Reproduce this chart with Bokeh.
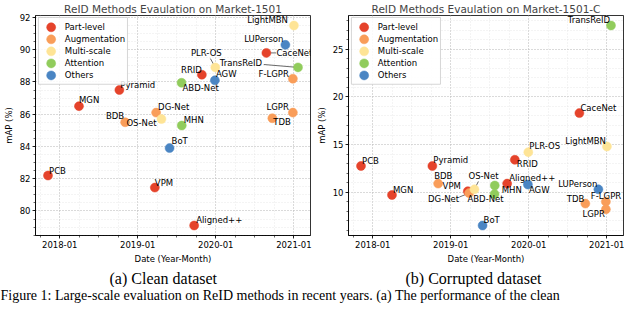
import numpy as np
from bokeh.plotting import figure
from bokeh.models import ColumnDataSource, Range1d, FixedTicker, Title
from bokeh.layouts import column, row
from bokeh.core.properties import value
from bokeh.embed import file_html
from bokeh.resources import INLINE

# ---------------- data ----------------
methods = ["PCB", "MGN", "Pyramid", "BDB", "DG-Net", "VPM", "OS-Net", "BoT", "ABD-Net", "MHN",
           "Aligned++", "RRID", "PLR-OS", "AGW", "CaceNet", "TDB", "LUPerson", "F-LGPR", "LGPR",
           "LightMBN", "TransReID"]
dates = ["2017-11-07", "2018-04-01", "2018-10-07", "2018-11-03", "2019-03-28", "2019-03-22",
         "2019-04-22", "2019-05-30", "2019-07-25", "2019-07-26", "2019-09-22", "2019-10-28",
         "2019-12-30", "2019-12-28", "2020-08-25", "2020-09-22", "2020-11-22", "2020-12-27",
         "2020-12-27", "2021-01-01", "2021-01-20"]
categories = ["Part-level", "Part-level", "Part-level", "Augmentation", "Augmentation", "Part-level",
              "Multi-scale", "Others", "Attention", "Attention", "Part-level", "Part-level",
              "Multi-scale", "Others", "Part-level", "Augmentation", "Others", "Augmentation",
              "Augmentation", "Multi-scale", "Attention"]
clean_map = [82.2, 86.5, 87.5, 85.5, 86.1, 81.45, 85.7, 83.9, 87.95, 85.3,
             79.1, 88.45, 88.9, 88.1, 89.8, 85.75, 90.3, 88.2, 86.1, 91.5, 88.9]
corrupt_map = [12.75, 9.7, 12.75, 10.9, 9.9, 10.1, 10.3, 6.5, 9.8, 10.7,
               10.9, 13.4, 14.2, 10.8, 18.3, 8.8, 10.3, 9.0, 8.2, 14.8, 27.5]

cat_names = ["Part-level", "Augmentation", "Multi-scale", "Attention", "Others"]
xtick_dates = ["2018-01-01", "2019-01-01", "2020-01-01", "2021-01-01"]
xtick_labels = ["2018-01", "2019-01", "2020-01", "2021-01"]
clean_yticks = [80, 82, 84, 86, 88, 90, 92]
corrupt_yticks = [10, 15, 20, 25]

titles = ["ReID Methods Evaulation on Market-1501", "ReID Methods Evaulation on Market-1501-C"]
captions = ["(a) Clean dataset", "(b) Corrupted dataset"]
footer = "Figure 1: Large-scale evaluation on ReID methods in recent years. (a) The performance of the clean"

# ---------------- styles ----------------
cat_colors = {"Part-level": "#e5432b", "Augmentation": "#f99d59", "Multi-scale": "#fee496",
              "Attention": "#91cc5c", "Others": "#4a85c3"}
FONT = "DejaVu Sans"

clean_offsets = {
    "PCB": (1, -5, "left"), "MGN": (0, -6, "left"), "Pyramid": (1, -5, "left"),
    "BDB": (-1, -6, "right"), "DG-Net": (2, -6, "left"), "VPM": (0, -5, "left"),
    "OS-Net": (-5, 4, "right"), "BoT": (2, -7, "left"), "ABD-Net": (1, 5, "left"),
    "MHN": (2, -6, "left"), "Aligned++": (2, -6, "left"), "RRID": (0, -5, "right"),
    "PLR-OS": (-9, -14, "center"), "AGW": (1, -6, "left"), "CaceNet": (10, 0, "left"),
    "TDB": (1, 4, "left"), "LUPerson": (-2, -6, "right"), "F-LGPR": (-4, -5, "right"),
    "LGPR": (-4, -6, "right"), "LightMBN": (-6, -6, "right"), "TransReID": (-36, -4, "right"),
}
corrupt_offsets = {
    "PCB": (1, -5, "left"), "MGN": (1, -5, "left"), "Pyramid": (1, -6, "left"),
    "BDB": (-4, -8, "left"), "DG-Net": (-10, 6, "right"), "VPM": (-7, -5, "right"),
    "OS-Net": (-6, -13, "left"), "BoT": (1, -6, "left"), "ABD-Net": (-9, 5, "center"),
    "MHN": (7, 4, "left"), "Aligned++": (2, -6, "left"), "RRID": (2, 4, "left"),
    "PLR-OS": (1, -6, "left"), "AGW": (1, 5, "left"), "CaceNet": (1, -5, "left"),
    "TDB": (-1, -5, "right"), "LUPerson": (-1, -5, "right"), "F-LGPR": (-15, -6, "left"),
    "LGPR": (-1, 5, "right"), "LightMBN": (-1, -5, "right"), "TransReID": (-1, -6, "right"),
}
clean_leaders = {"TransReID": (-35, -3), "CaceNet": (10, 0), "PLR-OS": (-5, -9)}
corrupt_leaders = {"OS-Net": (4, -8), "DG-Net": (-10, 4), "Aligned++": (2, -3)}

# legend layout in pixels, relative to the frame's top-left corner
LEG_BOX = (3, 2, 94, 70)
LEG_MARK_X = 16
LEG_FIRST_Y = 12
LEG_PITCH = 12.25
LEG_LABEL_X = 30


def to_ms(s):
    return int(np.datetime64(s, "ms").astype("int64"))


x_ms = [to_ms(d) for d in dates]
major_ms = [to_ms(d) for d in xtick_dates]
year_edges = [to_ms(f"{y}-01-01") for y in range(2017, 2023)]
minor_ms = []
for a, b in zip(year_edges[:-1], year_edges[1:]):
    for k in range(4):
        minor_ms.append(int(a + (b - a) * k / 4))

ROW_H = 287
TOP_B = 14
FRAME_H = 224
BOT_B = ROW_H - TOP_B - FRAME_H


def make_chart(vals, title, caption, offsets, leaders, yticks, ystep_minor,
               width, bl, br, cap_offset):
    frame_w = width - bl - br
    xmin, xmax = min(x_ms), max(x_ms)
    xpad = 0.05 * (xmax - xmin)
    ymin, ymax = min(vals), max(vals)
    ypad = 0.05 * (ymax - ymin)
    x0, x1 = xmin - xpad, xmax + xpad
    y0, y1 = ymin - ypad, ymax + ypad

    p = figure(width=width, height=ROW_H, x_axis_type="datetime",
               x_range=Range1d(x0, x1), y_range=Range1d(y0, y1),
               output_backend="svg", toolbar_location=None,
               min_border_left=bl, min_border_right=br, min_border_top=TOP_B,
               min_border_bottom=BOT_B, background_fill_color="white",
               border_fill_color="white", outline_line_color="black",
               outline_line_width=0.8)
    p.title.text = title
    p.title.text_font = FONT
    p.title.text_font_size = "10.5px"
    p.title.text_font_style = "normal"
    p.title.align = "center"
    p.title.standoff = 1

    xt = FixedTicker(ticks=major_ms, minor_ticks=minor_ms)
    p.xaxis.ticker = xt
    p.xgrid.ticker = xt
    p.xaxis.major_label_overrides = {m: l for m, l in zip(major_ms, xtick_labels)}
    yminor = np.arange(np.floor(y0 / ystep_minor) * ystep_minor, y1 + ystep_minor, ystep_minor)
    yt = FixedTicker(ticks=yticks, minor_ticks=[float(v) for v in yminor])
    p.yaxis.ticker = yt
    p.ygrid.ticker = yt

    for ax in (p.xaxis, p.yaxis):
        ax.axis_line_color = "black"
        ax.axis_line_width = 0.8
        ax.major_tick_line_color = "black"
        ax.major_tick_line_width = 0.8
        ax.minor_tick_line_color = "black"
        ax.minor_tick_line_width = 0.6
        ax.major_tick_out = 3
        ax.major_tick_in = 0
        ax.minor_tick_out = 2
        ax.minor_tick_in = 0
        ax.major_label_text_font = FONT
        ax.major_label_text_font_size = "8.5px"
        ax.major_label_text_color = "black"
        ax.major_label_standoff = 2
        ax.axis_label_text_font = FONT
        ax.axis_label_text_font_size = "8.5px"
        ax.axis_label_text_font_style = "normal"
        ax.axis_label_text_color = "black"
        ax.axis_label_standoff = 3
    p.xaxis.axis_label = "Date (Year-Month)"
    p.yaxis.axis_label = "mAP (%)"

    for g in (p.xgrid, p.ygrid):
        g.grid_line_color = "#b4b4b4"
        g.grid_line_dash = "1 2"
        g.grid_line_width = 0.8
        g.minor_grid_line_color = "#dadada"
        g.minor_grid_line_dash = "1 2"
        g.minor_grid_line_width = 0.6

    sx = (x1 - x0) / frame_w
    sy = (y1 - y0) / FRAME_H

    def PX(px):
        return x0 + px * sx

    def PY(py):
        return y1 - py * sy

    # leader lines
    lx0, ly0, lx1, ly1 = [], [], [], []
    for name, (dx, dy) in leaders.items():
        i = methods.index(name)
        lx0.append(x_ms[i] + dx * sx)
        ly0.append(vals[i] - dy * sy)
        lx1.append(x_ms[i])
        ly1.append(vals[i])
    p.segment(x0=lx0, y0=ly0, x1=lx1, y1=ly1, line_color="#444444", line_width=0.8)

    # points
    for cat in cat_names:
        idx = [i for i, c in enumerate(categories) if c == cat]
        src = ColumnDataSource(dict(x=[x_ms[i] for i in idx], y=[vals[i] for i in idx]))
        col = cat_colors[cat]
        p.scatter(x="x", y="y", source=src, size=9, fill_color=col, line_color=col,
                  line_width=0.5)

    # labels
    for align in ("left", "right", "center"):
        names = [m for m in methods if offsets[m][2] == align]
        idx = [methods.index(m) for m in names]
        src = ColumnDataSource(dict(
            x=[x_ms[i] for i in idx], y=[vals[i] for i in idx], t=names,
            dx=[offsets[m][0] for m in names], dy=[offsets[m][1] for m in names]))
        p.text(x="x", y="y", text="t", source=src, x_offset="dx", y_offset="dy",
               text_align=align, text_baseline="middle", text_font=value(FONT),
               text_font_size=value("8.5px"), text_color="black")

    # legend (drawn on top)
    bl_, bt_, br_, bb_ = LEG_BOX
    p.quad(left=[PX(bl_)], right=[PX(br_)], top=[PY(bt_)], bottom=[PY(bb_)],
           fill_color="white", fill_alpha=0.85, line_color="#cccccc", line_width=0.8)
    ly = [PY(LEG_FIRST_Y + k * LEG_PITCH) for k in range(len(cat_names))]
    p.scatter(x=[PX(LEG_MARK_X)] * len(cat_names), y=ly, size=9,
              fill_color=[cat_colors[c] for c in cat_names],
              line_color=[cat_colors[c] for c in cat_names], line_width=0.5)
    p.text(x=[PX(LEG_LABEL_X)] * len(cat_names), y=ly, text=cat_names,
           text_align="left", text_baseline="middle", text_font=value(FONT),
           text_font_size=value("8.5px"), text_color="black")

    cap = Title(text=caption, align="left", offset=cap_offset, standoff=2,
                text_font="Liberation Serif", text_font_size="16px",
                text_font_style="normal", text_color="black")
    p.add_layout(cap, "below")
    return p


p1 = make_chart(clean_map, titles[0], captions[0], clean_offsets, clean_leaders,
                clean_yticks, 0.5, 313, 29, 3, 74)
p2 = make_chart(corrupt_map, titles[1], captions[1], corrupt_offsets, corrupt_leaders,
                corrupt_yticks, 1.0, 311, 29, 1, 57)

p3 = figure(width=624, height=16, x_range=Range1d(0, 1), y_range=Range1d(0, 1), title=None,
            output_backend="svg", toolbar_location=None, min_border=0,
            x_axis_location=None, y_axis_location=None, outline_line_color=None)
p3.grid.visible = False
p3.text(x=[0], y=[0.5], text=[footer], text_baseline="middle", text_align="left",
        text_font=value("Liberation Serif"), text_font_size=value("14px"),
        text_color="black")

layout = column(row(p1, p2), p3)
open("out.html", "w").write(file_html(layout, INLINE))
